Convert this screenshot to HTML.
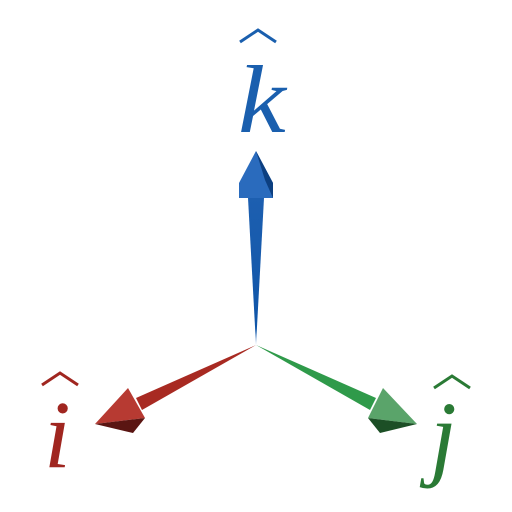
<!DOCTYPE html>
<html><head><style>body{margin:0;background:#fff}svg{display:block}</style></head>
<body>
<svg width="512" height="512" viewBox="0 0 512 512" xmlns="http://www.w3.org/2000/svg">
<defs>
<linearGradient id="gb" x1="0" y1="0" x2="0" y2="1"><stop offset="0" stop-color="#1d5fb0"/><stop offset="0.9" stop-color="#0f55a8"/><stop offset="1" stop-color="#8fb4e0"/></linearGradient>
</defs>
<g>
<polygon points="248,198 264,198 256,345" fill="url(#gb)"/>
<polygon points="256,151 239,183 239,198 273,198 273,183" fill="#2a6bbd"/>
<polygon points="256,151 273,183 273,198 265,180" fill="#0c3f80"/>
</g>
<g>
<polygon points="256,345 136,398 142,410" fill="#a82a22"/>
<polygon points="95,424 128,388 145,418" fill="#b73a32"/>
<polygon points="95,424 145,418 133,433" fill="#5a1512"/>
</g>
<g>
<polygon points="256,345 376,398 370,410" fill="#2f9a4a"/>
<polygon points="417,424 383,388 368,418" fill="#5aa46a"/>
<polygon points="417,424 368,418 380,433" fill="#1c4f26"/>
</g>
<g font-family="Liberation Serif, serif" font-style="italic">
<text x="238" y="132" font-size="96" fill="#1a5fae" transform="translate(238 132) scale(1.12 1) translate(-238 -132)">k</text>
<text x="44" y="467" font-size="96" fill="#a02620">i</text>
<text x="430" y="468" font-size="96" fill="#2a7a35">j</text>
</g>
<g fill="none" stroke-width="3" stroke-linejoin="miter">
<polyline points="240,42 258,30 276,42" stroke="#1a5fae"/>
<polyline points="42,385 60,373 78,385" stroke="#a02620"/>
<polyline points="434,388 452,376 470,388" stroke="#2a7a35"/>
</g>
</svg>
</body></html>
